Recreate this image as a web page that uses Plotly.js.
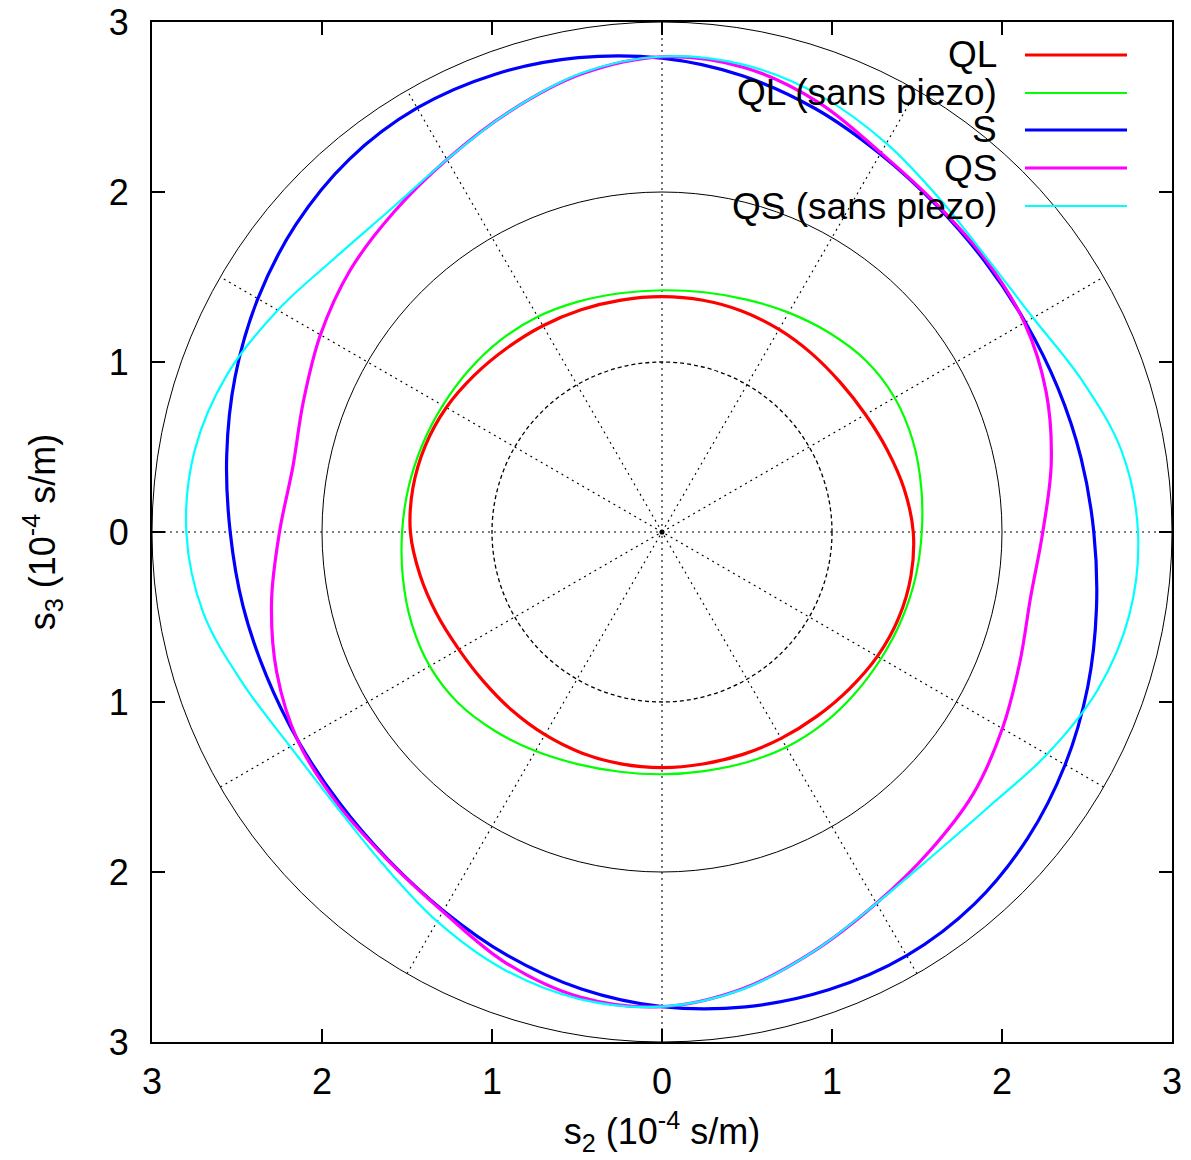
<!DOCTYPE html>
<html>
<head>
<meta charset="utf-8">
<script src="https://cdn.plot.ly/plotly-3.0.1.min.js"></script>
<style>html,body{margin:0;padding:0;background:#fff;}#chart{width:1191px;height:1160px;}</style>
</head>
<body>
<div id="chart"></div>
<script>
// Polar angle (degrees, counter-clockwise from the +s2 axis)
const theta = [0,10,20,30,40,50,60,70,80,90,100,110,120,130,140,150,160,170,
               180,190,200,210,220,230,240,250,260,270,280,290,300,310,320,330,340,350,360];
// Slowness radius (10^-4 s/m)
const rQL   = [1.478,1.447,1.410,1.382,1.369,1.370,1.376,1.382,1.384,1.384,1.385,1.391,1.401,1.415,1.438,1.465,1.482,1.488,
               1.480,1.446,1.410,1.380,1.369,1.371,1.377,1.383,1.385,1.386,1.386,1.392,1.402,1.416,1.437,1.463,1.481,1.487,1.478];
const rQLsp = [1.528,1.548,1.570,1.580,1.567,1.530,1.490,1.455,1.432,1.422,1.426,1.442,1.462,1.475,1.482,1.489,1.500,1.514,
               1.529,1.548,1.568,1.578,1.565,1.528,1.488,1.453,1.432,1.425,1.428,1.443,1.462,1.474,1.480,1.488,1.501,1.515,1.528];
const rS    = [2.540,2.503,2.478,2.468,2.478,2.510,2.568,2.648,2.725,2.787,2.833,2.866,2.880,2.862,2.812,2.745,2.672,2.600,
               2.540,2.503,2.476,2.468,2.478,2.512,2.572,2.652,2.730,2.792,2.836,2.866,2.878,2.858,2.806,2.738,2.665,2.595,2.540];
const rQS   = [2.240,2.325,2.405,2.462,2.488,2.515,2.575,2.690,2.775,2.795,2.735,2.630,2.530,2.455,2.395,2.320,2.245,2.205,
               2.250,2.332,2.412,2.470,2.490,2.515,2.578,2.695,2.778,2.792,2.728,2.622,2.522,2.450,2.392,2.312,2.240,2.202,2.240];
const rQSsp = [2.800,2.745,2.625,2.520,2.500,2.550,2.640,2.730,2.790,2.797,2.740,2.630,2.530,2.480,2.510,2.610,2.720,2.790,
               2.798,2.740,2.620,2.525,2.505,2.552,2.645,2.735,2.790,2.792,2.732,2.622,2.522,2.482,2.512,2.615,2.725,2.792,2.800];

const seriesNames  = ['QL','QL (sans piezo)','S','QS','QS (sans piezo)'];
const seriesR      = [rQL, rQLsp, rS, rQS, rQSsp];
const seriesColors = ['#ff0000','#00ff00','#0000ff','#ff00ff','#00ffff'];
const seriesWidths = [3.2, 2.2, 3.2, 3.2, 2.2];

const tickVals = [-3,-2,-1,0,1,2,3];
const tickText = ['3','2','1','0','1','2','3'];
const gridRadii = [1,2,3];
const spokeAngles = [0,30,60,90,120,150];

const FONT = 'Liberation Sans, Arial, Helvetica, sans-serif';

const traces = seriesNames.map((n,i)=>({
  type:'scatterpolar', mode:'lines', name:n,
  theta: theta, r: seriesR[i],
  line:{color:seriesColors[i], width:seriesWidths[i], shape:'spline', smoothing:1},
  subplot:'polar', showlegend:false, hoverinfo:'skip'
}));

const shapes = [];
// polar grid circles
gridRadii.forEach(r=>{
  shapes.push({type:'circle', xref:'x', yref:'y', x0:-r, y0:-r, x1:r, y1:r, layer:'below',
    line:{color:'#000', width: r===1?1.3:1, dash: r===1?'4px,3px':'solid'}});
});
// polar grid spokes
spokeAngles.forEach(a=>{
  const c = Math.cos(a*Math.PI/180)*3, s = Math.sin(a*Math.PI/180)*3;
  shapes.push({type:'line', xref:'x', yref:'y', x0:-c, y0:-s, x1:c, y1:s, layer:'below',
    line:{color:'#000', width:1.1, dash:'2px,4px'}});
});
// centre dot
shapes.push({type:'circle', xref:'x', yref:'y', x0:-0.015, y0:-0.015, x1:0.015, y1:0.015, layer:'below',
  fillcolor:'#000', line:{color:'#000', width:0}});

// gnuplot-style key (text on the left, sample line on the right)
const W=1020, L=152;
const legendY = [55, 93, 130, 168, 206];
const annotations = [];
seriesNames.forEach((n,i)=>{
  const yp = (1042 - legendY[i]) / W;
  shapes.push({type:'line', xref:'paper', yref:'paper', x0:(1025-L)/W, x1:(1127-L)/W, y0:yp, y1:yp,
    layer:'above', line:{color:seriesColors[i], width:seriesWidths[i]}});
  annotations.push({xref:'paper', yref:'paper', x:(999-L)/W, y:yp, xanchor:'right', yanchor:'middle',
    text:n, showarrow:false, font:{family:FONT, size:37, color:'#000'}});
});

const axisCommon = {
  range:[-3,3], tickvals:tickVals, ticktext:tickText, ticks:'inside', ticklen:13, tickwidth:2, tickcolor:'#000',
  showline:true, linewidth:2, linecolor:'#000', mirror:'ticks', showgrid:false, zeroline:false,
  fixedrange:true, tickfont:{family:FONT, size:36, color:'#000'}
};

const layout = {
  width:1191, height:1160,
  margin:{l:152, r:19, t:22, b:118, pad:0},
  paper_bgcolor:'#fff', plot_bgcolor:'#fff',
  showlegend:false,
  font:{family:FONT, size:36, color:'#000'},
  xaxis: Object.assign({}, axisCommon, {ticklabelstandoff:7,
    title:{text:'s<sub>2</sub> (10<sup>-4</sup> s/m)', standoff:18, font:{family:FONT, size:36, color:'#000'}}}),
  yaxis: Object.assign({}, axisCommon, {ticklabelstandoff:14,
    title:{text:'s<sub>3</sub> (10<sup>-4</sup> s/m)', standoff:42, font:{family:FONT, size:36, color:'#000'}}}),
  polar:{domain:{x:[0,1], y:[0,1]}, bgcolor:'rgba(0,0,0,0)',
    radialaxis:{range:[0,3], visible:false, showgrid:false, showline:false, showticklabels:false, ticks:''},
    angularaxis:{visible:false, showgrid:false, showline:false, showticklabels:false, ticks:'', rotation:0, direction:'counterclockwise'}},
  shapes:shapes, annotations:annotations
};

Plotly.newPlot('chart', traces, layout, {staticPlot:true, displayModeBar:false});
</script>
</body>
</html>
